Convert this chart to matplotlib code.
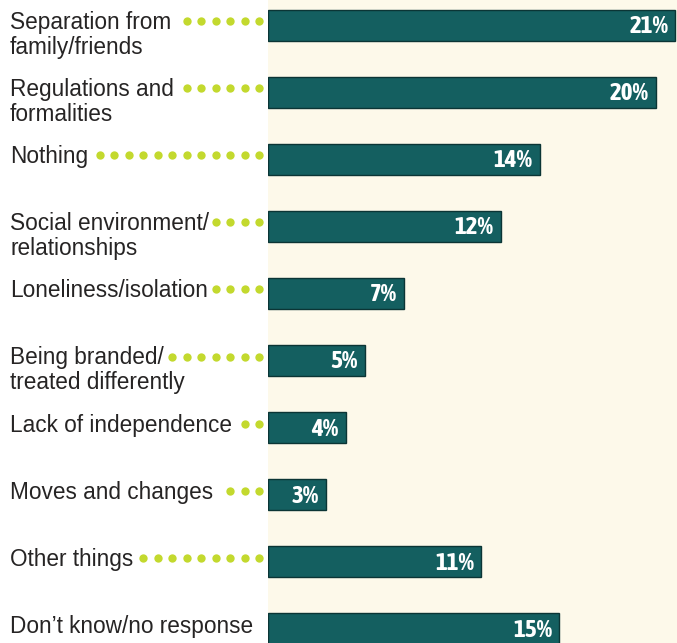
import numpy as np
import matplotlib
matplotlib.use("Agg")
import matplotlib.pyplot as plt
from matplotlib import font_manager

# survey answers, top to bottom
labels = [
    "Separation from\nfamily/friends",
    "Regulations and\nformalities",
    "Nothing",
    "Social environment/\nrelationships",
    "Loneliness/isolation",
    "Being branded/\ntreated differently",
    "Lack of independence",
    "Moves and changes",
    "Other things",
    "Don\u2019t know/no response",
]
values = [21, 20, 14, 12, 7, 5, 4, 3, 11, 15]
# number of leader dots after each label
n_dots = [6, 6, 12, 4, 4, 7, 2, 3, 9, 0]

W, H = 677, 643
fig = plt.figure(figsize=(W / 100, H / 100), dpi=100, facecolor="white")

# pixel geometry
bar_left = 268
px_per_pct = 19.4
row0 = 25.0
row_gap = 67.1

y_top = -row0 / row_gap
y_bot = (H - row0) / row_gap

# pick a condensed bold face for the percentages if one is around
fonts = font_manager.fontManager.ttflist
bold_narrow = sorted({f.name for f in fonts
                      if ("Narrow" in f.name or "Condensed" in f.name)
                      and (f.weight in ("bold", 700, 800, 900) or str(f.weight) in ("700", "800", "900"))})
pct_kw = dict(family=["Liberation Sans", "DejaVu Sans"], fontsize=15)
if "Liberation Sans Narrow" in bold_narrow:
    pct_kw = dict(family=["Liberation Sans Narrow", "DejaVu Sans"], fontsize=18)
elif bold_narrow:
    pct_kw = dict(family=[bold_narrow[0], "DejaVu Sans"], fontsize=18)
elif any(f.name == "DejaVu Sans" and f.stretch == "condensed" for f in fonts):
    pct_kw = dict(family=["DejaVu Sans"], stretch="condensed", fontsize=16)

# bar panel (cream background)
ax = fig.add_axes([bar_left / W, 0, 1 - bar_left / W, 1])
ax.set_facecolor("#fdf9ea")
ax.set_xlim(0, (W - bar_left) / px_per_pct)
ax.set_ylim(y_bot, y_top)
ax.axis("off")
ax.add_patch(plt.Rectangle((-0.2, y_bot), 30, y_top - y_bot, color="#fdf9ea", zorder=0))

rows = np.arange(len(values))
ax.barh(rows, values, height=31 / row_gap, left=0, color="#145f60",
        edgecolor="#0b3535", linewidth=1.0, zorder=2)

for i, v in enumerate(values):
    ax.text(v - 7 / px_per_pct, i + 8 / row_gap, f"{v}%", ha="right", va="baseline",
            color="white", fontweight="bold", zorder=3, **pct_kw)

# label panel over the whole figure, x in pixels
lab = fig.add_axes([0, 0, 1, 1], facecolor="none")
lab.set_xlim(0, W)
lab.set_ylim(y_bot, y_top)
lab.axis("off")

line_h = 25 / row_gap
for i, lbl in enumerate(labels):
    for j, line in enumerate(lbl.split("\n")):
        lab.text(10, i + 4 / row_gap + j * line_h, line, ha="left", va="baseline",
                 fontsize=16.3, color="#262424", family=["Liberation Sans", "DejaVu Sans"])
    if n_dots[i]:
        xs = 259 - 14.5 * np.arange(n_dots[i])
        lab.scatter(xs, np.full(n_dots[i], i - 4 / row_gap), s=36, color="#c3d92e",
                    linewidths=0, zorder=3)

fig.savefig("out.png", dpi=100, facecolor="white")
